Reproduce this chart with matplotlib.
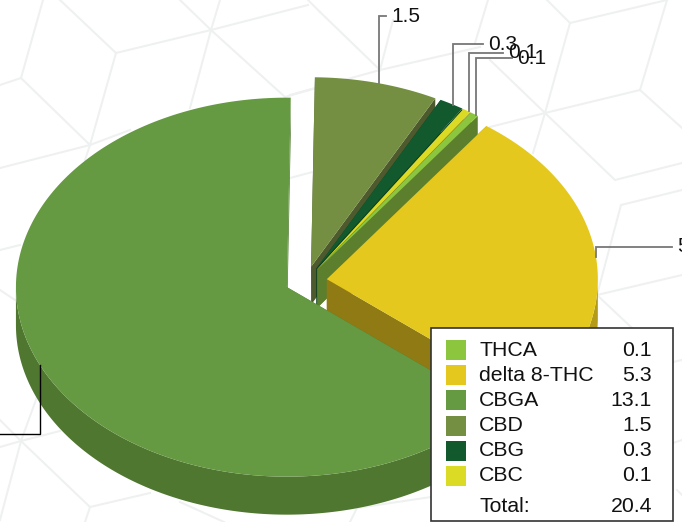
import numpy as np
import matplotlib
matplotlib.use("Agg")
import matplotlib.pyplot as plt

plt.rcParams['font.family'] = ['Liberation Sans', 'DejaVu Sans']

# legend order
names = ['THCA', 'delta 8-THC', 'CBGA', 'CBD', 'CBG', 'CBC']
values = [0.1, 5.3, 13.1, 1.5, 0.3, 0.1]
total = 20.4
colors = ['#8cc63f', '#e5c81e', '#659942', '#748f41', '#125a2e', '#dbdb26']
wall_colors = ['#5b7f2d', '#8f7a14', '#4f7730', '#4e5a2d', '#0c3d1f', '#8f8f18']
outer_colors = ['#5b7f2d', '#b39a17', '#4f7730', '#4e5a2d', '#0c3d1f', '#8f8f18']

# clockwise from the top of the pie, also back to front
draw_order = ['CBD', 'CBG', 'CBC', 'THCA', 'delta 8-THC', 'CBGA']

# label row (y) and where the text starts (x) for each callout
label_y = {'CBD': 16, 'CBG': 44, 'CBC': 53, 'THCA': 58, 'delta 8-THC': 247, 'CBGA': 434}
label_x = {'CBD': 391, 'CBG': 488, 'CBC': 508, 'THCA': 517, 'delta 8-THC': 677, 'CBGA': -5}

# pale pattern behind the chart, in pixels
bg_lines = [
    [(43, 0), (21, 78), (90, 145), (116, 53), (60, 0)],
    [(0, 85), (21, 78)], [(0, 168), (90, 145), (130, 130)], [(90, 145), (85, 160)],
    [(116, 53), (211, 30), (308, 5)], [(180, 0), (211, 30), (285, 97), (320, 87)],
    [(220, 0), (211, 30), (190, 108)], [(308, 0), (320, 12)], [(290, 178), (320, 170)],
    [(320, 12), (380, 70), (393, 20)], [(290, 95), (380, 70), (480, 47)],
    [(488, 0), (475, 43)], [(490, 60), (545, 113)], [(547, 0), (570, 23), (667, 0)],
    [(570, 23), (545, 113), (640, 90), (667, 0)], [(640, 90), (682, 128)],
    [(490, 127), (545, 113), (615, 180), (682, 163)], [(545, 113), (533, 153)],
    [(682, 190), (621, 205), (597, 295), (682, 275)], [(597, 295), (632, 328)],
    [(0, 250), (20, 245)], [(0, 290), (15, 300)], [(0, 420), (21, 441), (90, 507), (150, 493)],
    [(0, 447), (21, 441), (60, 431)], [(37, 397), (21, 441), (0, 520)], [(90, 507), (85, 522)],
    [(180, 502), (224, 522)], [(350, 522), (357, 508), (431, 497)],
    [(673, 362), (682, 360)], [(673, 443), (682, 440)], [(677, 490), (682, 495)],
]

cx, cy = 306, 281
rx, ry = 271, 189.5
depth = 38
explode = 21
start_angle = 89.2
leader_shift = -0.4


def ring(x0, y0, a, b, n=200):
    t = np.radians(np.linspace(a, b, n))
    return x0 + rx * np.cos(t), y0 - ry * np.sin(t)


def main():
    fig = plt.figure(figsize=(6.82, 5.22), dpi=100)
    ax = fig.add_axes([0, 0, 1, 1])
    ax.set_xlim(0, 682)
    ax.set_ylim(522, 0)
    ax.axis('off')

    for line in bg_lines:
        xs, ys = zip(*line)
        ax.plot(xs, ys, color='#eff1f1', lw=1.5, zorder=1, solid_joinstyle='miter')

    z = 2
    angle = start_angle
    for name in draw_order:
        i = names.index(name)
        sweep = values[i] / sum(values) * 360
        a, b = angle, angle - sweep
        angle = b
        mid = np.radians((a + b) / 2)
        x0 = cx + explode * np.cos(mid)
        y0 = cy - explode * ry / rx * np.sin(mid)

        # cut faces
        for edge in (a, b):
            ex, ey = ring(x0, y0, edge, edge, 1)
            ax.fill([x0, ex[0], ex[0], x0], [y0, ey[0], ey[0] + depth, y0 + depth],
                    color=wall_colors[i], lw=0, zorder=z)
        # outer wall, front half only
        lo, hi = max(b, -180), min(a, 0)
        if hi > lo:
            wx, wy = ring(x0, y0, hi, lo)
            ax.fill(np.r_[wx, wx[::-1]], np.r_[wy, wy[::-1] + depth],
                    color=outer_colors[i], lw=0, zorder=z)
        # top
        tx, ty = ring(x0, y0, a, b)
        ax.fill(np.r_[x0, tx], np.r_[y0, ty], color=colors[i], lw=0, zorder=z + 0.5)
        z += 1

        # callout
        ax_deg = (a + b) / 2 + leader_shift
        lx, ly = ring(x0, y0, ax_deg, ax_deg, 1)
        lx, ly = lx[0], ly[0]
        yl, xl = label_y[name], label_x[name]
        if name == 'CBGA':
            # its number sits past the left edge of the picture
            ax.plot([lx, lx, 0], [ly, yl, yl], color='black', lw=1.0, zorder=20,
                    solid_joinstyle='miter')
            continue
        ax.plot([lx, lx, xl - 5], [ly, yl, yl], color='#777777', lw=1.3, zorder=20,
                solid_joinstyle='miter')
        ax.text(xl, yl, f'{values[i]:.1f}', fontsize=15, color='#111111',
                ha='left', va='center', zorder=21, clip_on=True)

    # legend box
    ax.fill([431, 673, 673, 431], [328, 328, 521, 521], facecolor='white',
            edgecolor='#333333', lw=1.2, zorder=30)
    row_y = 350
    for i, name in enumerate(names):
        ax.fill([446, 466, 466, 446], [row_y - 10, row_y - 10, row_y + 10, row_y + 10],
                color=colors[i], lw=0, zorder=31)
        ax.text(479, row_y, name, fontsize=15.3, color='#111111', va='center', zorder=32)
        ax.text(652, row_y, f'{values[i]:.1f}', fontsize=15.3, color='#111111',
                ha='right', va='center', zorder=32)
        row_y += 25.2
    ax.text(479, 506, 'Total:', fontsize=15.3, color='#111111', va='center', zorder=32)
    ax.text(652, 506, f'{total:.1f}', fontsize=15.3, color='#111111',
            ha='right', va='center', zorder=32)

    fig.savefig('out.png', dpi=100)


if __name__ == '__main__':
    main()
